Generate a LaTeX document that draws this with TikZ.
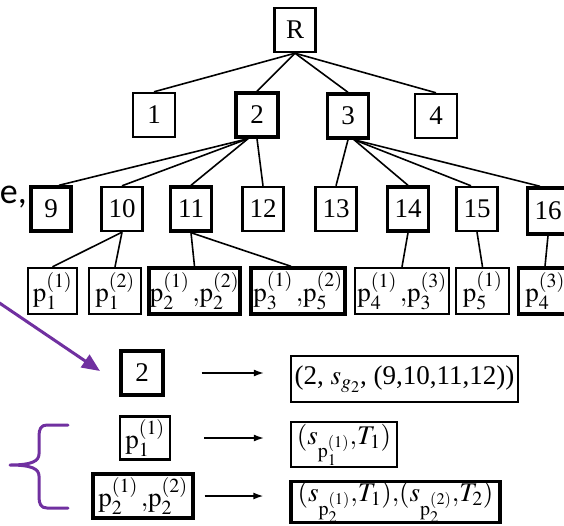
\documentclass[tikz,border=0pt]{standalone}
\usepackage{mathptmx}
\usepackage{fontspec}
\setmainfont{Liberation Serif}
\newfontfamily\calib{Carlito}
\usetikzlibrary{arrows.meta}
\definecolor{purp}{HTML}{7030A0}
\begin{document}
\begin{tikzpicture}[x=1pt,y=-1pt,
  box/.style={draw, line width=2.4pt, inner sep=0pt, minimum width=41pt, minimum height=44pt, font=\fontsize{27}{30}\selectfont},
  bbox/.style={box, line width=3.4pt},
  edge/.style={line width=1.6pt, draw=black},
  arr/.style={line width=1.4pt, -{Latex[length=10pt,width=7pt]}},
  purline/.style={draw=purp, line width=3pt, line cap=round, line join=round},
]
\useasboundingbox (0,0) rectangle (564,525);
% tree
\node[box] (R) at (295,30) {R};
\node[box, minimum width=42pt] (n1) at (154,115) {1};
\node[bbox, minimum width=42pt] (n2) at (257,115) {2};
\node[bbox, minimum width=41pt] (n3) at (348,116) {3};
\node[box, minimum width=42pt] (n4) at (436,116) {4};
\node[bbox, minimum width=40pt] (n9) at (51,209) {9};
\node[box] (n10) at (122,209) {10};
\node[bbox] (n11) at (191,209) {11};
\node[box] (n12) at (263,209) {12};
\node[box] (n13) at (336,209) {13};
\node[bbox] (n14) at (408,209) {14};
\node[box] (n15) at (477,209) {15};
\node[bbox, minimum height=46pt] (n16) at (548,211) {16};
\node[box, minimum width=49pt, minimum height=46pt] (pA) at (52.5,291) {$\mathrm{p}_1^{(1)}$};
\node[box, minimum width=52pt, minimum height=46pt] (pB) at (115,291) {$\mathrm{p}_1^{(2)}$};
\node[bbox, minimum width=91pt, minimum height=46pt] (pC) at (194.5,291) {$\mathrm{p}_2^{(1)}\,{,}\mathrm{p}_2^{(2)}$};
\node[bbox, minimum width=94pt, minimum height=46pt] (pD) at (298,291) {$\mathrm{p}_3^{(1)}\,{,}\mathrm{p}_5^{(2)}$};
\node[box, minimum width=94pt, minimum height=46pt] (pE) at (402,291) {$\mathrm{p}_4^{(1)}\,{,}\mathrm{p}_3^{(3)}$};
\node[box, minimum width=53pt, minimum height=46pt] (pF) at (482.5,291) {$\mathrm{p}_5^{(1)}$};
\node[bbox, minimum width=53pt, minimum height=46pt] (pG) at (545,291) {$\mathrm{p}_4^{(3)}$};
\foreach \c in {n1,n2,n3,n4} \draw[edge] (R.south) -- (\c.north);
\draw[edge] ([xshift=-9pt]n2.south) -- ([xshift=8pt]n9.north);
\draw[edge] ([xshift=-9pt]n2.south) -- (n10.north);
\draw[edge] ([xshift=-9pt]n2.south) -- (n11.north);
\draw[edge] (n2.south) -- (n12.north);
\draw[edge] (n3.south) -- (n13.north);
\draw[edge] ([xshift=6pt]n3.south) -- (n14.north);
\draw[edge] ([xshift=6pt]n3.south) -- ([xshift=-6pt]n15.north);
\draw[edge] ([xshift=6pt]n3.south) -- ([xshift=-8pt]n16.north);
\draw[edge] (n10.south) -- (pA.north);
\draw[edge] (n10.south) -- (pB.north);
\draw[edge] (n11.south) -- (pC.north);
\draw[edge] (n11.south) -- ([xshift=-7pt]pD.north);
\draw[edge] (n14.south) -- (pE.north);
\draw[edge] (n15.south) -- (pF.north);
\draw[edge] (n16.south) -- (pG.north);
% bottom legend
\node[bbox, minimum width=42pt] (b2) at (142,373) {2};
\node[box, minimum width=227pt, minimum height=46pt] (r1) at (404.5,379) {(2, $s_{g_2}$, (9,10,11,12))};
\node[box, minimum width=50pt, minimum height=43pt] (bp1) at (145,438) {$\mathrm{p}_1^{(1)}$};
\node[box, minimum width=106pt, minimum height=45pt] (r2) at (344,444.5) {$(s_{\mathrm{p}_1^{(1)}}{,}T_1)$};
\node[bbox, minimum width=100pt, minimum height=44pt] (bp2) at (143,496) {$\mathrm{p}_2^{(1)}\,{,}\mathrm{p}_2^{(2)}$};
\node[bbox, minimum width=209pt, minimum height=40pt] (r3) at (395.5,502) {$(s_{\mathrm{p}_2^{(1)}}{,}T_1){,}(s_{\mathrm{p}_2^{(2)}}{,}T_2)$};
\draw[arr, shorten <=37pt, shorten >=26pt] (b2.east) -- (b2.east -| r1.west);
\draw[arr, shorten <=33pt, shorten >=26pt] (bp1.east) -- (bp1.east -| r2.west);
\draw[arr, shorten <=10pt, shorten >=26pt] (bp2.east) -- (bp2.east -| r3.west);
% purple annotations
\coordinate (pstart) at (-2,302);
\coordinate (ptip) at (100,371);
\draw[purline, -{Triangle[length=18pt,width=15pt]}] (pstart) -- (ptip);
\draw[purline] (68,425) -- (47,425) .. controls (41,425) and (39,429) .. (39,436) -- (39,454) .. controls (39,461) and (32,465) .. (10,465) .. controls (32,465) and (39,469) .. (39,476) -- (39,497) .. controls (39,504) and (41,508) .. (47,508) -- (68,508);
\node[anchor=base east, inner sep=0pt, font=\calib\fontsize{36}{40}\selectfont] (etext) at (27,203) {e,};
\end{tikzpicture}
\end{document}
